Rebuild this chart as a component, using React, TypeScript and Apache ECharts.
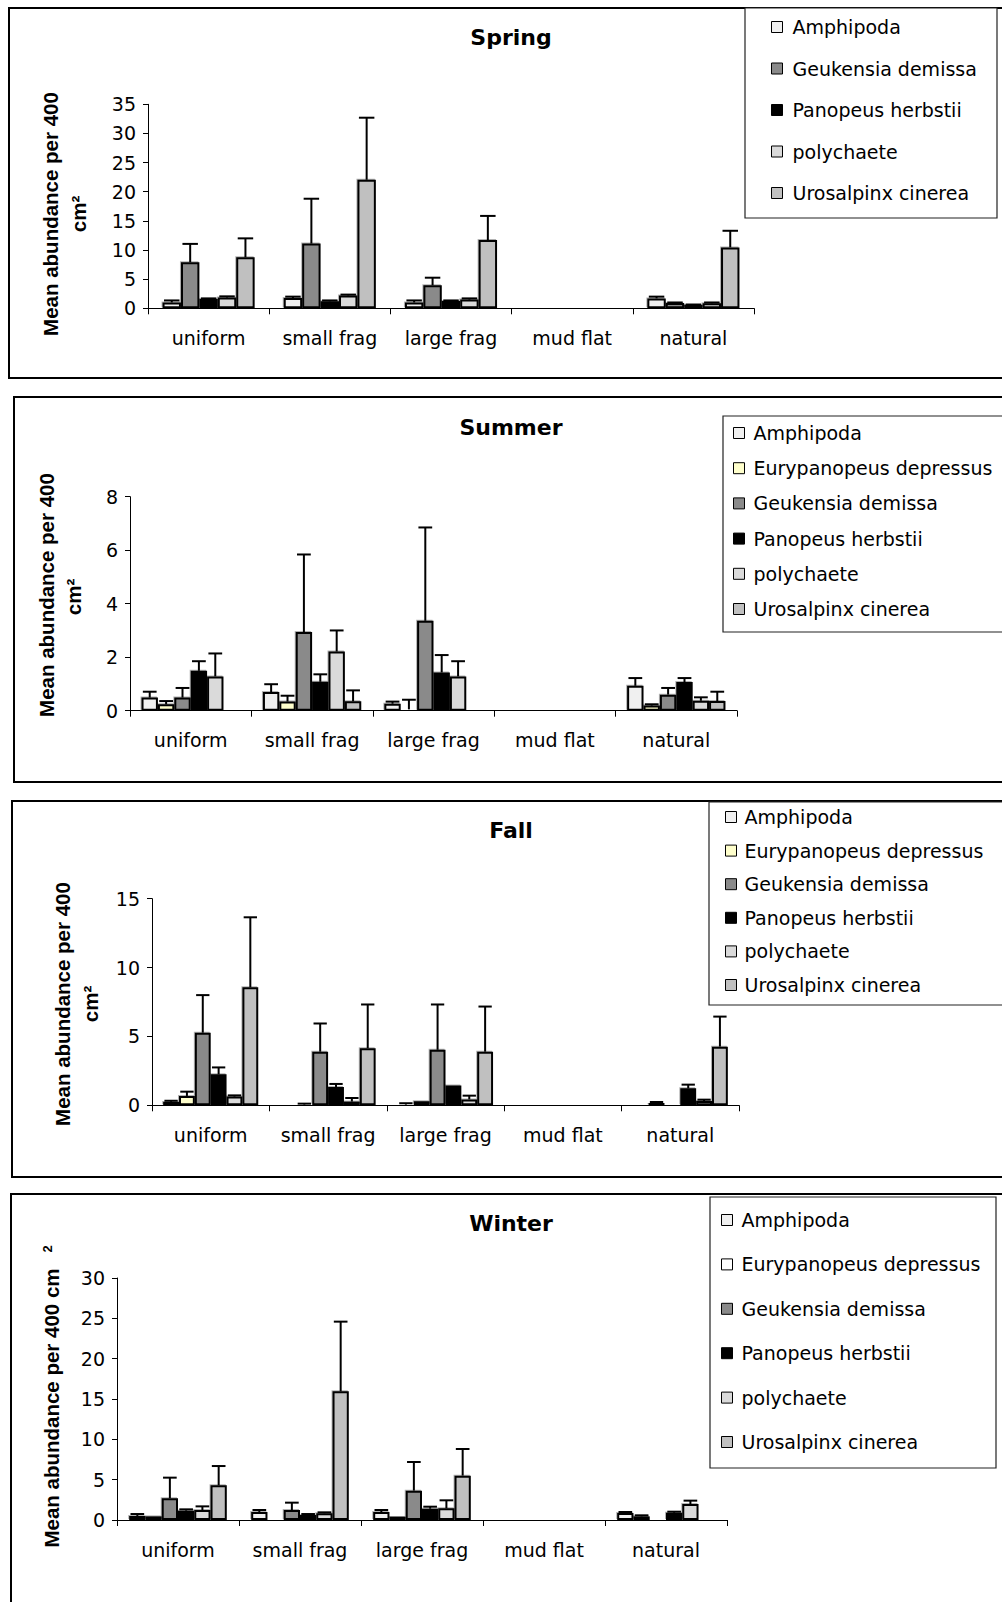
import React, { useEffect, useRef } from 'react';
import * as echarts from 'echarts';

// Habitat treatments along each x axis
const CATEGORIES = ['uniform', 'small frag', 'large frag', 'mud flat', 'natural'];

// ---- Spring: mean abundance per 400 cm² and the upper error (SE) per taxon ----
const springSpecies = ['Amphipoda', 'Geukensia demissa', 'Panopeus herbstii', 'polychaete', 'Urosalpinx cinerea'];
const springMeans = [
  [1.0, 1.75, 1.0, 0, 1.7],
  [7.9, 11.1, 3.95, 0, 0.9],
  [1.6, 1.2, 1.25, 0, 0.6],
  [1.85, 2.2, 1.5, 0, 0.85],
  [8.75, 22.05, 11.7, 0, 10.45],
];
const springSE = [
  [0.35, 0.25, 0.35, 0, 0.3],
  [3.15, 7.7, 1.3, 0, 0.1],
  [0.1, 0.15, 0.1, 0, 0.05],
  [0.2, 0.15, 0.2, 0, 0.15],
  [3.25, 10.65, 4.15, 0, 2.85],
];

// ---- Summer ----
const summerSpecies = ['Amphipoda', 'Eurypanopeus depressus', 'Geukensia demissa', 'Panopeus herbstii', 'polychaete', 'Urosalpinx cinerea'];
const summerMeans = [
  [0.49, 0.7, 0.26, 0, 0.93],
  [0.24, 0.34, 0.05, 0, 0.19],
  [0.49, 2.94, 3.36, 0, 0.6],
  [1.49, 1.08, 1.43, 0, 1.07],
  [1.28, 2.21, 1.28, 0, 0.37],
  [0.06, 0.35, 0, 0, 0.36],
];
const summerSE = [
  [0.22, 0.29, 0.08, 0, 0.29],
  [0.12, 0.22, 0.36, 0, 0.05],
  [0.36, 2.9, 3.49, 0, 0.25],
  [0.36, 0.28, 0.65, 0, 0.15],
  [0.86, 0.79, 0.57, 0, 0.13],
  [0, 0.41, 0, 0, 0.35],
];

// ---- Fall ----
const fallSpecies = ['Amphipoda', 'Eurypanopeus depressus', 'Geukensia demissa', 'Panopeus herbstii', 'polychaete', 'Urosalpinx cinerea'];
const fallMeans = [
  [0.25, 0, 0.05, 0, 0],
  [0.68, 0.05, 0.3, 0, 0.19],
  [5.27, 3.89, 4.03, 0, 0.12],
  [2.25, 1.33, 1.43, 0, 1.23],
  [0.63, 0.27, 0.43, 0, 0.31],
  [8.57, 4.15, 3.89, 0, 4.26],
];
const fallSE = [
  [0.08, 0, 0.1, 0, 0],
  [0.31, 0.07, 0, 0, 0.05],
  [2.73, 2.05, 3.29, 0, 0],
  [0.5, 0.22, 0, 0, 0.27],
  [0.09, 0.26, 0.27, 0, 0.1],
  [5.08, 3.17, 3.28, 0, 2.18],
];

// ---- Winter ----
const winterSpecies = ['Amphipoda', 'Eurypanopeus depressus', 'Geukensia demissa', 'Panopeus herbstii', 'polychaete', 'Urosalpinx cinerea'];
const winterMeans = [
  [0.5, 0.99, 0.99, 0, 0.87],
  [0.45, 0.2, 0.41, 0, 0.45],
  [2.69, 1.24, 3.64, 0, 0.2],
  [1.16, 0.62, 1.4, 0, 0.9],
  [1.24, 0.83, 1.45, 0, 1.98],
  [4.3, 15.95, 5.5, 0, 0],
];
const winterSE = [
  [0.24, 0.25, 0.25, 0, 0.12],
  [0, 0, 0, 0, 0.13],
  [2.56, 0.91, 3.55, 0, 0],
  [0.16, 0.12, 0.25, 0, 0.13],
  [0.45, 0.12, 0.99, 0, 0.42],
  [2.39, 8.64, 3.3, 0, 0],
];

// Fill colours of the taxa
const FILL: Record<string, string> = {
  'Amphipoda': '#f0f0f0',
  'Eurypanopeus depressus': '#ffffcc',
  'Geukensia demissa': '#8a8a8a',
  'Panopeus herbstii': '#000000',
  'polychaete': '#dadada',
  'Urosalpinx cinerea': '#c0c0c0',
};
const WINTER_FILL: Record<string, string> = { 'Eurypanopeus depressus': '#ffffff' };

const FONT = '"DejaVu Sans", "Liberation Sans", Arial, sans-serif';
const TITLE_FONT = '"Liberation Sans", Arial, sans-serif';

type Panel = {
  title: string;
  species: string[];
  means: number[][];
  se: number[][];
  yMax: number;
  yStep: number;
  frame: [number, number, number, number];
  titleY: number;
  grid: { left: number; top: number; width: number; height: number };
  gap: number;
  legendFrame: [number, number, number, number];
  legend: { left: number; top: number; itemGap: number; pad: number };
  yTitle: { text: string; x: number; y: number; size: number }[];
  fills: Record<string, string>;
};

const PANELS: Panel[] = [
  {
    title: 'Spring', species: springSpecies, means: springMeans, se: springSE, yMax: 35, yStep: 5,
    frame: [9, 8, 1010, 370], titleY: 37,
    grid: { left: 148, top: 104.3, width: 606, height: 204 }, gap: 0.24,
    legendFrame: [745, 8, 252, 210], legend: { left: 771, top: 17, itemGap: 21.5, pad: 5 },
    yTitle: [
      { text: 'Mean abundance per 400', x: 50, y: 214, size: 20.5 },
      { text: 'cm²', x: 78, y: 214, size: 20.5 },
    ],
    fills: FILL,
  },
  {
    title: 'Summer', species: summerSpecies, means: summerMeans, se: summerSE, yMax: 8, yStep: 2,
    frame: [14, 397, 1010, 385], titleY: 427,
    grid: { left: 130, top: 496.7, width: 607, height: 214 }, gap: 0.19,
    legendFrame: [723, 416, 300, 216], legend: { left: 733, top: 423, itemGap: 15.2, pad: 4 },
    yTitle: [
      { text: 'Mean abundance per 400', x: 46, y: 595, size: 20.5 },
      { text: 'cm²', x: 73, y: 597, size: 20.5 },
    ],
    fills: FILL,
  },
  {
    title: 'Fall', species: fallSpecies, means: fallMeans, se: fallSE, yMax: 15, yStep: 5,
    frame: [12, 801, 1010, 376], titleY: 830,
    grid: { left: 152, top: 898.7, width: 587, height: 206.6 }, gap: 0.19,
    legendFrame: [709, 802, 300, 203], legend: { left: 725, top: 807, itemGap: 13.6, pad: 3 },
    yTitle: [
      { text: 'Mean abundance per 400', x: 62, y: 1004, size: 20.5 },
      { text: 'cm²', x: 90, y: 1004, size: 20.5 },
    ],
    fills: FILL,
  },
  {
    title: 'Winter', species: winterSpecies, means: winterMeans, se: winterSE, yMax: 30, yStep: 5,
    frame: [11, 1194, 1010, 500], titleY: 1223,
    grid: { left: 117, top: 1278, width: 610, height: 242 }, gap: 0.2,
    legendFrame: [710, 1197, 286, 271], legend: { left: 721, top: 1210, itemGap: 24.4, pad: 4 },
    yTitle: [
      { text: 'Mean abundance per 400 cm', x: 51, y: 1408, size: 20.5 },
      { text: '2', x: 47, y: 1249, size: 13 },
    ],
    fills: { ...FILL, ...WINTER_FILL },
  },
];

function buildOption() {
  const grid: any[] = [];
  const xAxis: any[] = [];
  const yAxis: any[] = [];
  const series: any[] = [];
  const legend: any[] = [];
  const title: any[] = [];
  const graphic: any[] = [];

  PANELS.forEach((p, pi) => {
    const n = p.species.length;

    // panel frame and legend box
    graphic.push({
      type: 'rect', z: 0, silent: true,
      shape: { x: p.frame[0], y: p.frame[1], width: p.frame[2], height: p.frame[3] },
      style: { fill: 'none', stroke: '#000', lineWidth: 2 },
    });
    graphic.push({
      type: 'rect', z: 1, silent: true,
      shape: { x: p.legendFrame[0], y: p.legendFrame[1], width: p.legendFrame[2], height: p.legendFrame[3] },
      style: { fill: '#fff', stroke: '#222', lineWidth: 1.2 },
    });

    // rotated y-axis title
    p.yTitle.forEach((t) => {
      graphic.push({
        type: 'text', z: 5, silent: true, x: t.x, y: t.y, rotation: Math.PI / 2,
        style: {
          text: t.text, fill: '#000', fontSize: t.size, fontWeight: 'bold', fontFamily: TITLE_FONT,
          textAlign: 'center', textVerticalAlign: 'middle', align: 'center', verticalAlign: 'middle',
        },
      });
    });

    title.push({
      text: p.title, left: 511, top: p.titleY - 12, textAlign: 'center', padding: 0,
      textStyle: { fontSize: 22, fontWeight: 'bold', fontFamily: FONT, color: '#000', lineHeight: 24 },
    });

    grid.push({ ...p.grid, containLabel: false });

    xAxis.push({
      type: 'category', gridIndex: pi, data: CATEGORIES,
      axisLine: { show: true, lineStyle: { color: '#000', width: 1 } },
      axisTick: { show: true, length: 6, lineStyle: { color: '#000', width: 1 } },
      axisLabel: { interval: 0, margin: 20, fontSize: 19, fontFamily: FONT, color: '#000' },
      splitLine: { show: false },
    });
    yAxis.push({
      type: 'value', gridIndex: pi, min: 0, max: p.yMax, interval: p.yStep,
      axisLine: { show: true, lineStyle: { color: '#000', width: 1 } },
      axisTick: { show: true, length: 5, lineStyle: { color: '#000', width: 1 } },
      axisLabel: { margin: 12, fontSize: 19, fontFamily: FONT, color: '#000' },
      splitLine: { show: false },
    });

    p.species.forEach((name, si) => {
      series.push({
        type: 'bar', name, xAxisIndex: pi, yAxisIndex: pi,
        data: p.means[si].map((v) => (v > 0 ? v : null)),
        barGap: '0%', barCategoryGap: `${p.gap * 100}%`,
        itemStyle: {
          color: p.fills[name], borderColor: '#000', borderWidth: 2,
          shadowColor: 'rgba(0,0,0,0.3)', shadowOffsetX: -1, shadowOffsetY: -1, shadowBlur: 0,
        },
        emphasis: { disabled: true }, silent: true, z: 2,
      });
    });

    // upper error bars: [category, taxon index, mean, SE]
    const rows: number[][] = [];
    p.species.forEach((_, si) => {
      p.se[si].forEach((e, ci) => {
        if (e > 0) rows.push([ci, si, p.means[si][ci], e]);
      });
    });
    const gap = p.gap;
    series.push({
      type: 'custom', xAxisIndex: pi, yAxisIndex: pi, data: rows, encode: { x: 0, y: 2 },
      silent: true, z: 3,
      renderItem: (params: any, api: any) => {
        const cat = api.value(0);
        const k = api.value(1);
        const mean = api.value(2);
        const se = api.value(3);
        const band = api.size([1, 0])[0];
        const inner = band * (1 - gap);
        const bw = inner / n;
        const base = api.coord([cat, mean]);
        const top = api.coord([cat, mean + se]);
        const x = base[0] - inner / 2 + (k + 0.5) * bw;
        const half = bw * 0.42;
        return {
          type: 'group',
          children: [
            { type: 'line', shape: { x1: x, y1: base[1], x2: x, y2: top[1] }, style: { stroke: '#000', lineWidth: 2 } },
            { type: 'line', shape: { x1: x - half, y1: top[1], x2: x + half, y2: top[1] }, style: { stroke: '#000', lineWidth: 2 } },
          ],
        };
      },
    });

    legend.push({
      orient: 'vertical', left: p.legend.left, top: p.legend.top, padding: 0,
      itemGap: p.legend.itemGap, itemWidth: 11, itemHeight: 11, icon: 'rect',
      selectedMode: false, z: 6,
      data: p.species.map((name) => ({
        name, itemStyle: { color: p.fills[name], borderColor: '#000', borderWidth: 1 },
      })),
      itemStyle: { borderColor: '#000', borderWidth: 1, shadowBlur: 0, shadowOffsetX: 0, shadowOffsetY: 0, shadowColor: 'transparent' },
      textStyle: { fontSize: 19, fontFamily: FONT, color: '#000', lineHeight: 20, padding: [0, 0, 0, p.legend.pad] },
    });
  });

  return { animation: false, backgroundColor: '#fff', title, grid, xAxis, yAxis, legend, series, graphic };
}

export default function App() {
  const ref = useRef<HTMLDivElement>(null);
  useEffect(() => {
    if (!ref.current) return;
    const chart = echarts.init(ref.current, undefined, { renderer: 'svg' });
    chart.setOption(buildOption() as any);
    return () => chart.dispose();
  }, []);
  return (
    <div
      ref={ref}
      style={{ position: 'absolute', left: 0, top: 0, width: 1002, height: 1602, background: '#fff' }}
    />
  );
}
